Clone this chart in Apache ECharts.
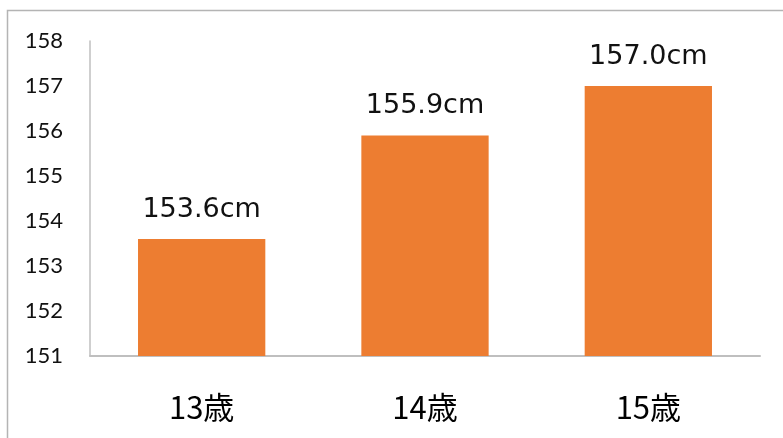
<!DOCTYPE html>
<html><head><meta charset="utf-8">
<script src="https://cdn.jsdelivr.net/npm/echarts@6/dist/echarts.min.js"></script>
<style>html,body{margin:0;padding:0;background:#fff}#c{width:783px;height:438px}</style>
</head><body><div id="c"></div>
<script>
const categories = ['13歳', '14歳', '15歳'];
const heights = [153.6, 155.9, 157.0];
const yMin = 151, yMax = 158;

const chart = echarts.init(document.getElementById('c'));
chart.setOption({
  animation: false,
  graphic: [{
    type: 'polyline',
    shape: { points: [[7.5, 438], [7.5, 10.5], [783, 10.5]] },
    style: { stroke: '#b4b4b4', lineWidth: 1.5, fill: null },
    silent: true
  }],
  grid: { left: 90, right: 23, top: 41, bottom: 82 },
  xAxis: {
    type: 'category',
    data: categories,
    axisLine: { lineStyle: { color: '#bfbfbf', width: 2 } },
    axisTick: { show: false },
    axisLabel: { fontFamily: 'Noto Sans CJK JP', fontSize: 31, color: '#000', margin: 36 }
  },
  yAxis: {
    type: 'value',
    min: yMin, max: yMax, interval: 1,
    splitLine: { show: false },
    axisLine: { show: true, lineStyle: { color: '#bfbfbf', width: 1.5 } },
    axisTick: { show: false },
    axisLabel: { fontFamily: 'Lato', fontSize: 22, color: '#111', margin: 27 }
  },
  series: [{
    type: 'bar',
    data: heights,
    barWidth: '57%',
    itemStyle: { color: '#ED7D31' },
    label: {
      show: true, position: 'top', distance: 16,
      fontFamily: 'DejaVu Sans', fontSize: 27, color: '#111',
      formatter: p => p.value.toFixed(1) + 'cm'
    }
  }]
});
</script></body></html>
